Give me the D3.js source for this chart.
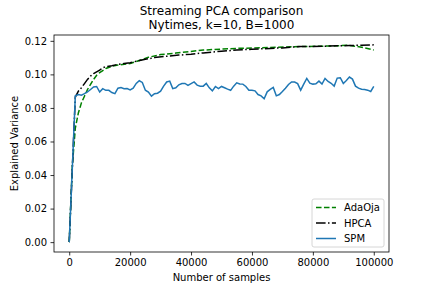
<!DOCTYPE html>
<html>
<head>
<meta charset="utf-8">
<script src="https://cdn.jsdelivr.net/npm/d3@7"></script>
<style>
    body { margin: 0; background: #fff; }
    svg { display: block; font-family: 'DejaVu Sans', sans-serif; }
</style>
</head>
<body>
<svg width="432" height="288"></svg>
<script>
// Values
const titleLines = ['Streaming PCA comparison', 'Nytimes, k=10, B=1000'];
const xTicks = [0, 20000, 40000, 60000, 80000, 100000];
const yTicks = [0.00, 0.02, 0.04, 0.06, 0.08, 0.10, 0.12];

const adaSamples = [0, 1000, 2000, 3000, 4000, 5000, 6000, 7000, 8000, 9000, 10000, 12000, 14000,
    16000, 20000, 23000, 26000, 30000, 35000, 44000, 55000, 66000, 76000, 83000, 88000, 91000,
    94000, 97000, 100000];
const adaValues = [0, 0.045, 0.068, 0.077, 0.083, 0.087, 0.091, 0.094, 0.097, 0.0995, 0.101, 0.1035, 0.1048,
    0.1056, 0.1065, 0.1083, 0.1102, 0.1118, 0.1127, 0.1145, 0.1155, 0.1160, 0.1166, 0.1168, 0.1170, 0.1174,
    0.1168, 0.1158, 0.1145];

const hpcaSamples = [0, 2000, 3000, 4000, 5000, 6000, 7000, 8000, 9000, 10000, 11000, 12000, 14000,
    16000, 18000, 20000, 22000, 25000, 28000, 32000, 36000, 40000, 44000, 50000, 55000, 60000, 66000,
    70000, 76000, 80000, 84000, 88000, 92000, 96000, 100000];
const hpcaValues = [0, 0.0865, 0.0900, 0.0920, 0.0945, 0.0970, 0.0990, 0.1005, 0.1015, 0.1025, 0.1040, 0.1045, 0.1052,
    0.1060, 0.1065, 0.1070, 0.1078, 0.1090, 0.1100, 0.1108, 0.1115, 0.1120, 0.1128, 0.1138, 0.1145, 0.1150, 0.1155,
    0.1158, 0.1166, 0.1166, 0.1168, 0.1170, 0.1172, 0.1174, 0.1176];

const spmSamples = [0].concat(d3.range(2000, 100001, 1000));
const spmValues = [0,
    0.0872, 0.0880, 0.0876, 0.0885, 0.0895, 0.0910, 0.0925, 0.0928, 0.0895,
    0.0915, 0.0905, 0.0905, 0.0892, 0.0885, 0.0918, 0.0922, 0.0915, 0.0916, 0.0908,
    0.0918, 0.0946, 0.0962, 0.0952, 0.0906, 0.0895, 0.0870, 0.0885, 0.0888, 0.0900,
    0.0930, 0.0955, 0.0960, 0.0915, 0.0920, 0.0938, 0.0946, 0.0946, 0.0935, 0.0945,
    0.0955, 0.0936, 0.0930, 0.0930, 0.0946, 0.0920, 0.0902, 0.0928, 0.0915, 0.0928,
    0.0920, 0.0912, 0.0905, 0.0930, 0.0950, 0.0943, 0.0942, 0.0928, 0.0905, 0.0905,
    0.0902, 0.0880, 0.0872, 0.0855, 0.0896, 0.0910, 0.0922, 0.0872, 0.0880, 0.0898,
    0.0918, 0.0940, 0.0955, 0.0954, 0.0945, 0.0906, 0.0942, 0.0976, 0.0948, 0.0942,
    0.0944, 0.0960, 0.0942, 0.0976, 0.0958, 0.0947, 0.0930, 0.0978, 0.0980, 0.0946,
    0.0964, 0.0984, 0.0972, 0.0930, 0.0918, 0.0912, 0.0910, 0.0906, 0.0898, 0.0928];

const seriesNames = ['AdaOja', 'HPCA', 'SPM'];
const seriesColors = ['#008000', '#000000', '#1f77b4'];
const seriesDashes = ['5.55,2.4', '9.6,2.4,1.5,2.4', null];

const series = [
    {name: seriesNames[0], xs: adaSamples, ys: adaValues},
    {name: seriesNames[1], xs: hpcaSamples, ys: hpcaValues},
    {name: seriesNames[2], xs: spmSamples, ys: spmValues}
];

const svg = d3.select('svg');
const plotLeft = 54, plotRight = 389, plotTop = 35, plotBottom = 252;

// matplotlib style 5% margins around the data
const xExt = d3.extent(series.flatMap(s => s.xs));
const yExt = d3.extent(series.flatMap(s => s.ys));
const xPad = (xExt[1] - xExt[0]) * 0.05, yPad = (yExt[1] - yExt[0]) * 0.05;

const x = d3.scaleLinear().domain([xExt[0] - xPad, xExt[1] + xPad]).range([plotLeft, plotRight]);
const y = d3.scaleLinear().domain([yExt[0] - yPad, yExt[1] + yPad]).range([plotBottom, plotTop]);

const plot = svg.append('g');
plot.append('defs').append('clipPath').attr('id', 'clip')
    .append('rect')
    .attr('x', plotLeft).attr('y', plotTop)
    .attr('width', plotRight - plotLeft).attr('height', plotBottom - plotTop);

const line = d3.line()
    .x(d => x(d[0]))
    .y(d => y(d[1]));

plot.append('g')
    .attr('clip-path', 'url(#clip)')
    .selectAll('path')
    .data(series)
    .enter().append('path')
    .attr('d', s => line(s.xs.map((v, i) => [v, s.ys[i]])))
    .style('fill', 'none')
    .style('stroke', (s, i) => seriesColors[i])
    .style('stroke-width', 1.5)
    .style('stroke-dasharray', (s, i) => seriesDashes[i]);

// Axes
const xAxis = svg.append('g')
    .attr('transform', 'translate(0,' + plotBottom + ')')
    .call(d3.axisBottom(x).tickValues(xTicks).tickFormat(d3.format('d')).tickSize(3.5).tickPadding(3.5));
const yAxis = svg.append('g')
    .attr('transform', 'translate(' + plotLeft + ',0)')
    .call(d3.axisLeft(y).tickValues(yTicks).tickFormat(d3.format('.2f')).tickSize(3.5).tickPadding(3.5));

[xAxis, yAxis].forEach(a =>
{
    a.select('.domain').remove();
    a.selectAll('line').style('stroke', '#000').style('stroke-width', 0.8);
    a.selectAll('text').style('font-size', '10px').style('fill', '#000')
        .style('font-family', "'DejaVu Sans', sans-serif");
});

// Frame
svg.append('rect')
    .attr('x', plotLeft).attr('y', plotTop)
    .attr('width', plotRight - plotLeft).attr('height', plotBottom - plotTop)
    .style('fill', 'none')
    .style('stroke', '#000')
    .style('stroke-width', 0.8);

// Titles and labels
svg.append('g').selectAll('text')
    .data(titleLines)
    .enter().append('text')
    .attr('x', (plotLeft + plotRight) / 2)
    .attr('y', (d, i) => 14.5 + i * 14)
    .attr('text-anchor', 'middle')
    .style('font-size', '12px')
    .text(d => d);

svg.append('text')
    .attr('x', (plotLeft + plotRight) / 2)
    .attr('y', 281)
    .attr('text-anchor', 'middle')
    .style('font-size', '10px')
    .text('Number of samples');

svg.append('text')
    .attr('transform', 'translate(18,' + (plotTop + plotBottom) / 2 + ') rotate(-90)')
    .attr('text-anchor', 'middle')
    .style('font-size', '10px')
    .text('Explained Variance');

// Legend, lower right
const legendW = 72, legendH = 48;
const legend = svg.append('g')
    .attr('transform', 'translate(' + (plotRight - 5 - legendW) + ',' + (plotBottom - 5 - legendH) + ')');

legend.append('rect')
    .attr('width', legendW).attr('height', legendH)
    .attr('rx', 2).attr('ry', 2)
    .style('fill', 'rgba(255,255,255,0.8)')
    .style('stroke', '#cccccc')
    .style('stroke-width', 0.8);

const entry = legend.selectAll('g.entry')
    .data(seriesNames)
    .enter().append('g')
    .attr('class', 'entry')
    .attr('transform', (d, i) => 'translate(0,' + (8.5 + i * 15.5) + ')');

entry.append('line')
    .attr('x1', 4).attr('x2', 24)
    .style('stroke', (d, i) => seriesColors[i])
    .style('stroke-width', 1.5)
    .style('stroke-dasharray', (d, i) => seriesDashes[i]);

entry.append('text')
    .attr('x', 32)
    .attr('dy', '0.35em')
    .style('font-size', '10px')
    .text(d => d);
</script>
</body>
</html>
